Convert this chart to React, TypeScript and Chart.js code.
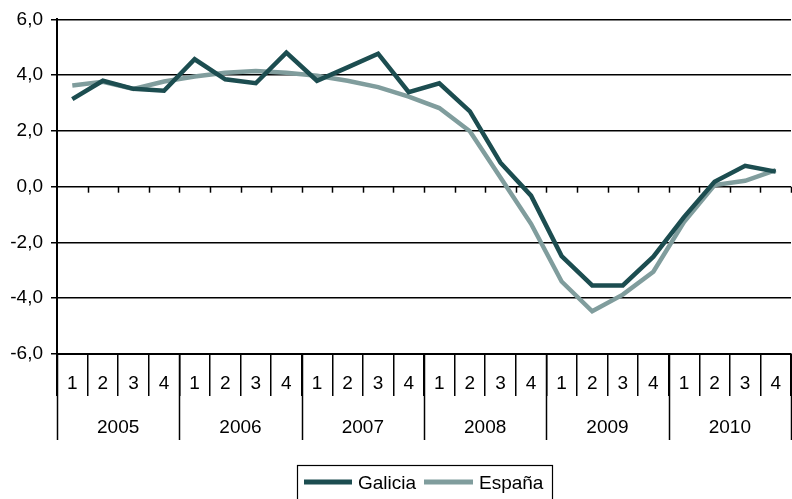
import React, { useEffect, useRef } from "react";
import { Chart, registerables } from "chart.js";

Chart.register(...registerables);

const quarters = ["1", "2", "3", "4", "1", "2", "3", "4", "1", "2", "3", "4", "1", "2", "3", "4", "1", "2", "3", "4", "1", "2", "3", "4"];
const years = ["2005", "2006", "2007", "2008", "2009", "2010"];
const galicia = [3.14, 3.80, 3.51, 3.44, 4.57, 3.85, 3.71, 4.81, 3.80, 4.28, 4.77, 3.39, 3.71, 2.70, 0.86, -0.32, -2.49, -3.54, -3.54, -2.51, -1.09, 0.18, 0.75, 0.54];
const espana = [3.63, 3.76, 3.51, 3.77, 3.95, 4.09, 4.15, 4.09, 3.98, 3.80, 3.57, 3.23, 2.82, 1.99, 0.33, -1.33, -3.40, -4.47, -3.87, -3.05, -1.27, 0.06, 0.21, 0.59];
const seriesNames = ["Galicia", "España"];
const seriesColors = ["#1c4d50", "#809d9d"];

const FONT = "'Liberation Sans', Arial, sans-serif";

const extrasPlugin = {
  id: "extras",
  afterDraw(chart: any) {
    const ctx = chart.ctx;
    const xs = chart.scales.x;
    const ys = chart.scales.y;
    const area = chart.chartArea;
    const n = quarters.length;
    const step = (xs.getPixelForValue(1) - xs.getPixelForValue(0));
    const boundary = (i: number) => xs.getPixelForValue(i) - step / 2;
    ctx.save();
    ctx.strokeStyle = "#000";
    // ticks on zero line
    const y0 = ys.getPixelForValue(0);
    ctx.lineWidth = 1.5;
    for (let i = 1; i <= n; i++) {
      const x = Math.round(boundary(i)) + 0.5;
      ctx.beginPath();
      ctx.moveTo(x, y0);
      ctx.lineTo(x, y0 + 6);
      ctx.stroke();
    }
    // year separators
    for (let k = 0; k <= years.length; k++) {
      const x = Math.round(boundary(k * 4)) + 0.5;
      ctx.beginPath();
      ctx.moveTo(x, area.bottom);
      ctx.lineTo(x, 440);
      ctx.stroke();
    }
    // year labels
    ctx.fillStyle = "#000";
    ctx.font = `19px ${FONT}`;
    ctx.textAlign = "center";
    ctx.textBaseline = "middle";
    years.forEach((yr, k) => {
      const x = (xs.getPixelForValue(k * 4) + xs.getPixelForValue(k * 4 + 3)) / 2;
      ctx.fillText(yr, x, 428);
    });
    // legend
    ctx.lineWidth = 1.2;
    ctx.strokeRect(297.5, 465.5, 255, 45);
    const items = [
      { sx: 304, ex: 352, tx: 358 },
      { sx: 424, ex: 473, tx: 479 },
    ];
    chart.data.datasets.forEach((ds: any, i: number) => {
      const it = items[i];
      ctx.strokeStyle = ds.borderColor;
      ctx.lineWidth = 5;
      ctx.beginPath();
      ctx.moveTo(it.sx, 482);
      ctx.lineTo(it.ex, 482);
      ctx.stroke();
      ctx.fillStyle = "#000";
      ctx.textAlign = "left";
      ctx.fillText(ds.label, it.tx, 484);
    });
    ctx.restore();
  },
};

export default function App() {
  const ref = useRef<HTMLCanvasElement>(null);
  useEffect(() => {
    if (!ref.current) return;
    const chart = new Chart(ref.current, {
      type: "line",
      data: {
        labels: quarters,
        datasets: [
          { label: seriesNames[0], data: galicia, borderColor: seriesColors[0], backgroundColor: seriesColors[0], borderWidth: 4.5, pointRadius: 0, tension: 0, fill: false },
          { label: seriesNames[1], data: espana, borderColor: seriesColors[1], backgroundColor: seriesColors[1], borderWidth: 4.5, pointRadius: 0, tension: 0, fill: false },
        ],
      },
      options: {
        animation: false,
        responsive: false,
        devicePixelRatio: 1,
        layout: { padding: { top: 15, right: 1, left: 0, bottom: 0 } },
        plugins: { legend: { display: false }, tooltip: { enabled: false } },
        scales: {
          x: {
            type: "category",
            offset: true,
            grid: { offset: true, drawOnChartArea: false, drawTicks: true, tickLength: 42, color: "#000", lineWidth: 1.5 },
            border: { display: true, color: "#000", width: 2 },
            ticks: { autoSkip: false, maxRotation: 0, padding: -24, color: "#000", font: { family: FONT, size: 19 } },
            afterFit: (s: any) => { s.height = 145; },
          },
          y: {
            min: -6,
            max: 6,
            ticks: {
              stepSize: 2,
              padding: 8,
              color: "#000",
              font: { family: FONT, size: 19 },
              callback: (v: any) => Number(v).toFixed(1).replace(".", ","),
            },
            grid: { color: "#000", lineWidth: 1.5, tickLength: 6 },
            border: { display: true, color: "#000", width: 2 },
            afterFit: (s: any) => { s.width = 57; },
          },
        },
      },
      plugins: [extrasPlugin],
    });
    return () => chart.destroy();
  }, []);
  return (
    <div style={{ position: "absolute", left: 0, top: 0, width: 792, height: 499, background: "#fff" }}>
      <canvas ref={ref} width={792} height={499} />
    </div>
  );
}
